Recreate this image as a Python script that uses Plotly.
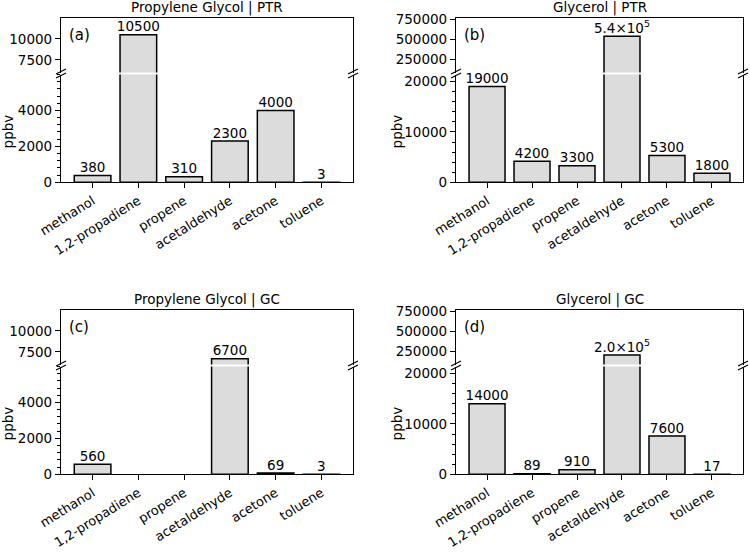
import plotly.graph_objects as go

# ---------------- data ----------------
categories = ["methanol", "1,2-propadiene", "propene", "acetaldehyde", "acetone", "toluene"]

pg_ptr_values = [380, 10500, 310, 2300, 4000, 3]
pg_ptr_labels = ["380", "10500", "310", "2300", "4000", "3"]

gly_ptr_values = [19000, 4200, 3300, 540000, 5300, 1800]
gly_ptr_labels = ["19000", "4200", "3300", "5.4×10<sup>5</sup>", "5300", "1800"]

pg_gc_values = [560, None, None, 6700, 69, 3]
pg_gc_labels = ["560", "", "", "6700", "69", "3"]

gly_gc_values = [14000, 89, 910, 200000, 7600, 17]
gly_gc_labels = ["14000", "89", "910", "2.0×10<sup>5</sup>", "7600", "17"]

titles = ["Propylene Glycol | PTR", "Glycerol | PTR", "Propylene Glycol | GC", "Glycerol | GC"]
tags = ["(a)", "(b)", "(c)", "(d)"]

pg_upper_ticks = [7500, 10000]
pg_lower_ticks = [0, 2000, 4000]
gly_upper_ticks = [250000, 500000, 750000]
gly_lower_ticks = [0, 10000, 20000]

# ---------------- layout helpers ----------------
W, H = 750, 552
FONT = "DejaVu Sans"
BAR_FILL = "#dcdcdc"

def px(x):
    return x / W

def py(y):
    return 1 - y / H

# pixel boxes: (x0, x1, upper_top, upper_bottom, lower_top, lower_bottom, ylabel_x)
boxes = [
    (61, 353, 18, 72.5, 74.5, 182.3, 8),
    (456, 743, 18, 72.5, 74.5, 182.3, 397),
    (61, 353, 310, 364.5, 366.5, 474.3, 8),
    (456, 743, 310, 364.5, 366.5, 474.3, 397),
]

panels = [
    dict(values=pg_ptr_values, labels=pg_ptr_labels, up_range=[6000, 12500], lo_range=[0, 6000],
         up_ticks=pg_upper_ticks, lo_ticks=pg_lower_ticks, minor=400),
    dict(values=gly_ptr_values, labels=gly_ptr_labels, up_range=[80000, 770000], lo_range=[0, 21400],
         up_ticks=gly_upper_ticks, lo_ticks=gly_lower_ticks, minor=2000),
    dict(values=pg_gc_values, labels=pg_gc_labels, up_range=[6000, 12500], lo_range=[0, 6000],
         up_ticks=pg_upper_ticks, lo_ticks=pg_lower_ticks, minor=400),
    dict(values=gly_gc_values, labels=gly_gc_labels, up_range=[80000, 770000], lo_range=[0, 21400],
         up_ticks=gly_upper_ticks, lo_ticks=gly_lower_ticks, minor=2000),
]

fig = go.Figure()
layout = {}
annotations = []
shapes = []
XR = [-0.69, 5.69]
TICKFONT = dict(family=FONT, size=13.5, color="black")
XTICKFONT = dict(family=FONT, size=13, color="black")

for i, (p, b) in enumerate(zip(panels, boxes)):
    x0, x1, ut, ub, lt, lb, ylx = b
    up_idx = 2 * i + 1
    lo_idx = 2 * i + 2
    xu = f"x{up_idx}" if up_idx > 1 else "x"
    yu = f"y{up_idx}" if up_idx > 1 else "y"
    xl = f"x{lo_idx}"
    yl = f"y{lo_idx}"
    xu_key = "xaxis" if up_idx == 1 else f"xaxis{up_idx}"
    yu_key = "yaxis" if up_idx == 1 else f"yaxis{up_idx}"
    xl_key = f"xaxis{lo_idx}"
    yl_key = f"yaxis{lo_idx}"

    split = p["lo_range"][1]
    for xa, ya in ((xu, yu), (xl, yl)):
        fig.add_trace(go.Bar(
            x=categories, y=p["values"], width=0.8,
            marker=dict(color=BAR_FILL, line=dict(color="black", width=1.5)),
            xaxis=xa, yaxis=ya, showlegend=False, hoverinfo="skip",
        ))

    # value labels
    up_x, up_y, up_t, lo_x, lo_y, lo_t = [], [], [], [], [], []
    for c, v, t in zip(categories, p["values"], p["labels"]):
        if v is None:
            continue
        if v > split:
            up_x.append(c); up_y.append(v); up_t.append(t)
        else:
            lo_x.append(c); lo_y.append(v); lo_t.append(t)
    for xs, ys, ts, xa, ya in ((up_x, up_y, up_t, xu, yu), (lo_x, lo_y, lo_t, xl, yl)):
        if xs:
            fig.add_trace(go.Scatter(
                x=xs, y=ys, text=ts, mode="text", textposition="top center",
                textfont=dict(family=FONT, size=13.5, color="black"),
                xaxis=xa, yaxis=ya, showlegend=False, cliponaxis=False, hoverinfo="skip",
            ))

    dom_x = [px(x0), px(x1)]
    common_x = dict(domain=dom_x, range=XR, type="category", categoryarray=categories,
                    categoryorder="array", showgrid=False, zeroline=False, automargin=False,
                    showline=True, linecolor="black", linewidth=1.2)
    layout[xu_key] = dict(common_x, anchor=yu, side="top", ticks="", showticklabels=False)
    layout[xl_key] = dict(common_x, anchor=yl, side="bottom", ticks="outside", ticklen=5,
                          tickcolor="black", tickwidth=1.2, tickangle=-32,
                          tickfont=XTICKFONT)
    common_y = dict(showgrid=False, zeroline=False, showline=True, mirror=True, automargin=False,
                    linecolor="black", linewidth=1.2, ticks="outside", ticklen=5,
                    tickcolor="black", tickwidth=1.2, tickformat="d",
                    tickfont=TICKFONT)
    layout[yu_key] = dict(common_y, domain=[py(ub), py(ut)], range=p["up_range"],
                          tickvals=p["up_ticks"], anchor=xu)
    layout[yl_key] = dict(common_y, domain=[py(lb), py(lt)], range=p["lo_range"],
                          tickvals=p["lo_ticks"], anchor=xl,
                          minor=dict(dtick=p["minor"], ticks="outside", ticklen=3,
                                     tickcolor="black", tickwidth=1))

    # title
    annotations.append(dict(text=titles[i], x=px((x0 + x1) / 2), y=py(ut - 10.5),
                            xref="paper", yref="paper", showarrow=False,
                            xanchor="center", yanchor="middle",
                            font=dict(family=FONT, size=13.5, color="black")))
    # panel tag
    annotations.append(dict(text=tags[i], x=px(x0 + 6), y=py(ut + 17),
                            xref="paper", yref="paper", showarrow=False,
                            xanchor="left", yanchor="middle",
                            font=dict(family=FONT, size=15, color="black")))
    # y label
    annotations.append(dict(text="ppbv", x=px(ylx), y=py((lt + lb) / 2 + 3),
                            xref="paper", yref="paper", showarrow=False, textangle=-90,
                            xanchor="center", yanchor="middle",
                            font=dict(family=FONT, size=13.5, color="black")))
    # break marks
    for xe in (x0, x1):
        for yc in (ub - 1, lt + 1):
            shapes.append(dict(type="line", xref="paper", yref="paper",
                               x0=px(xe - 5), y0=py(yc + 2.5), x1=px(xe + 5), y1=py(yc - 2.5),
                               line=dict(color="black", width=1.2)))

fig.update_layout(
    width=W, height=H,
    margin=dict(l=0, r=0, t=0, b=0, autoexpand=False),
    paper_bgcolor="white", plot_bgcolor="white",
    bargap=0.2,
    annotations=annotations, shapes=shapes,
    font=dict(family=FONT, color="black"),
    **layout,
)

fig.write_html("out.html", config={"displayModeBar": False},
               post_script="document.body.style.margin='0px';document.body.style.overflow='hidden';")
